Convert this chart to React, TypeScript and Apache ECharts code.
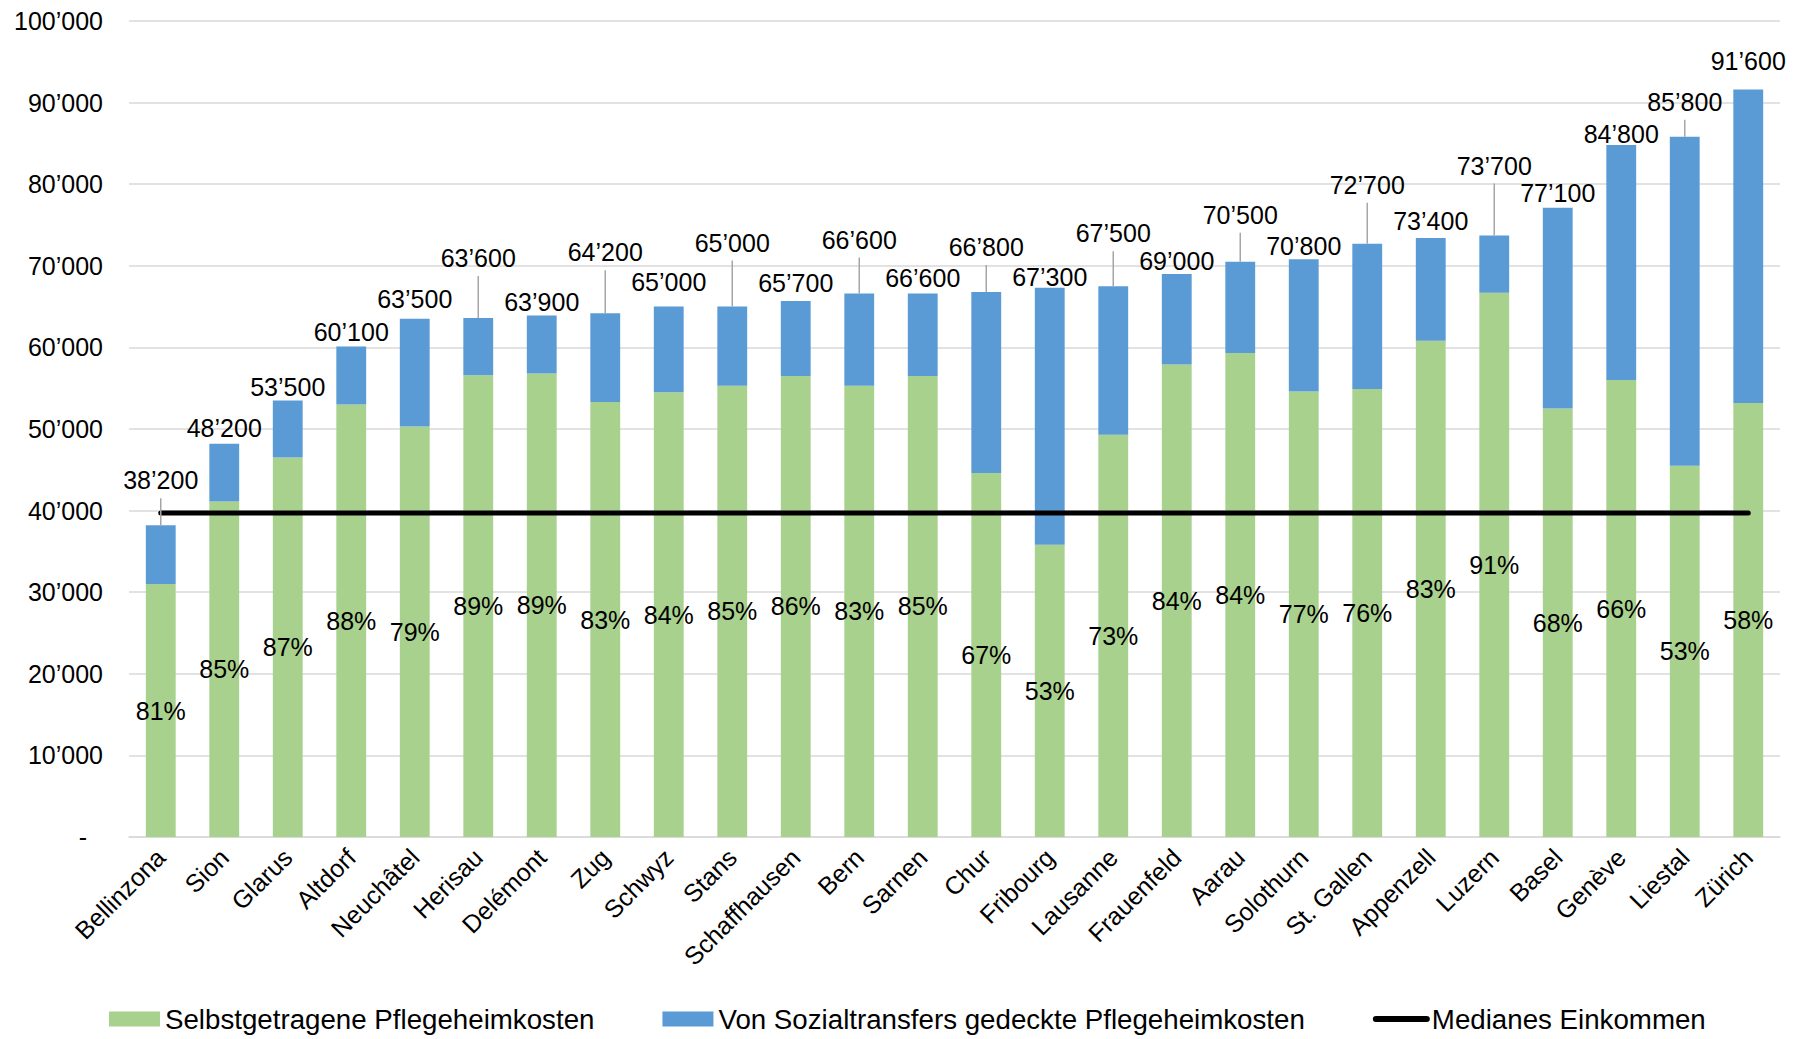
import React, { useEffect, useRef } from 'react';
import * as echarts from 'echarts';

const cities = [
  'Bellinzona', 'Sion', 'Glarus', 'Altdorf', 'Neuchâtel', 'Herisau', 'Delémont', 'Zug', 'Schwyz', 'Stans',
  'Schaffhausen', 'Bern', 'Sarnen', 'Chur', 'Fribourg', 'Lausanne', 'Frauenfeld', 'Aarau', 'Solothurn',
  'St. Gallen', 'Appenzell', 'Luzern', 'Basel', 'Genève', 'Liestal', 'Zürich',
];

const totalCost = [
  38200, 48200, 53500, 60100, 63500, 63600, 63900, 64200, 65000, 65000,
  65700, 66600, 66600, 66800, 67300, 67500, 69000, 70500, 70800,
  72700, 73400, 73700, 77100, 84800, 85800, 91600,
];

const selfPaid = [
  31000, 41100, 46500, 53000, 50300, 56600, 56800, 53300, 54500, 55300,
  56500, 55300, 56500, 44600, 35800, 49300, 57900, 59300, 54600,
  54900, 60800, 66700, 52500, 56000, 45500, 53200,
];

const socialTransfers = [
  7200, 7100, 7000, 7100, 13200, 7000, 7100, 10900, 10500, 9700,
  9200, 11300, 10100, 22200, 31500, 18200, 11100, 11200, 16200,
  17800, 12600, 7000, 24600, 28800, 40300, 38400,
];

const selfPaidShare = [
  81, 85, 87, 88, 79, 89, 89, 83, 84, 85,
  86, 83, 85, 67, 53, 73, 84, 84, 77,
  76, 83, 91, 68, 66, 53, 58,
];

const medianIncome = 39700;

const yMin = 0;
const yMax = 100000;
const yStep = 10000;

// label placement (layout only): lift of total label above bar top, and whether a leader line is drawn
const totalLabelLift = [45, 16, 13, 15, 20, 60, 14, 61, 25, 64, 18, 54, 16, 45, 11, 53, 13, 47, 13, 59, 17, 70, 15, 11, 35, 29];
const hasLeaderLine = [
  true, false, false, false, false, true, false, true, false, true,
  false, true, false, true, false, true, false, true, false,
  true, false, true, false, false, true, false,
];

const SERIES_SELF = 'Selbstgetragene Pflegeheimkosten';
const SERIES_SOCIAL = 'Von Sozialtransfers gedeckte Pflegeheimkosten';
const SERIES_MEDIAN = 'Medianes Einkommen';

const FONT = '"Liberation Sans", Arial, Helvetica, sans-serif';
const GREEN = '#A9D18E';
const BLUE = '#5B9BD5';

function fmt(v: number): string {
  if (v === 0) return '-';
  const th = Math.floor(v / 1000);
  const rest = String(Math.round(v % 1000)).padStart(3, '0');
  return th > 0 ? `${th}\u2019${rest}` : String(v);
}

export default function App() {
  const ref = useRef<HTMLDivElement>(null);

  useEffect(() => {
    if (!ref.current) return;
    const chart = echarts.init(ref.current, undefined, { renderer: 'svg' });

    const option: any = {
      animation: false,
      backgroundColor: '#ffffff',
      textStyle: { fontFamily: FONT },
      grid: { left: 129, right: 15, top: 21, bottom: 202, containLabel: false },
      legend: {
        left: 109,
        top: 1004,
        padding: 0,
        itemGap: 68,
        itemWidth: 51,
        itemHeight: 15,
        textStyle: { fontSize: 27.7, lineHeight: 30, color: '#000', fontFamily: FONT },
        data: [
          { name: SERIES_SELF, icon: 'rect' },
          { name: SERIES_SOCIAL, icon: 'rect' },
          { name: SERIES_MEDIAN, lineStyle: { width: 6, cap: 'round' }, itemStyle: { opacity: 0 } },
        ],
      },
      xAxis: {
        type: 'category',
        data: cities,
        boundaryGap: true,
        axisLine: { show: true, lineStyle: { color: '#D9D9D9', width: 1.5 } },
        axisTick: { show: false },
        axisLabel: {
          interval: 0,
          rotate: 45,
          margin: 16,
          fontSize: 25,
          color: '#000',
          fontFamily: FONT,
        },
      },
      yAxis: {
        type: 'value',
        min: yMin,
        max: yMax,
        interval: yStep,
        axisLine: { show: false },
        axisTick: { show: false },
        splitLine: { lineStyle: { color: '#D9D9D9', width: 1.5 } },
        axisLabel: {
          margin: 26,
          fontSize: 25,
          color: '#000',
          fontFamily: FONT,
          formatter: (v: number) => (v === 0 ? '{d|-}' : fmt(v)),
          rich: { d: { fontSize: 25, color: '#000', padding: [0, 16, 0, 0] } },
        },
      },
      series: [
        {
          name: SERIES_SELF,
          type: 'bar',
          stack: 'cost',
          barWidth: '47%',
          data: selfPaid,
          itemStyle: { color: GREEN },
          label: {
            show: true,
            position: 'inside',
            fontSize: 25,
            color: '#000',
            fontFamily: FONT,
            formatter: (p: any) => `${selfPaidShare[p.dataIndex]}%`,
          },
          z: 2,
        },
        {
          name: SERIES_SOCIAL,
          type: 'bar',
          stack: 'cost',
          barWidth: '47%',
          data: socialTransfers,
          itemStyle: { color: BLUE },
          z: 2,
        },
        {
          name: SERIES_MEDIAN,
          type: 'line',
          data: cities.map(() => medianIncome),
          symbol: 'none',
          showSymbol: false,
          lineStyle: { color: '#000', width: 5, cap: 'round' },
          itemStyle: { color: '#000' },
          z: 4,
        },
        {
          name: 'totals',
          type: 'custom',
          data: totalCost.map((v, i) => [i, v]),
          z: 5,
          silent: true,
          renderItem: (params: any, api: any) => {
            const i = params.dataIndex;
            const top = api.coord([api.value(0), api.value(1)]);
            const ly = top[1] - totalLabelLift[i];
            const children: any[] = [];
            if (hasLeaderLine[i]) {
              children.push({
                type: 'line',
                shape: { x1: top[0], y1: ly + 18, x2: top[0], y2: top[1] },
                style: { stroke: '#A6A6A6', lineWidth: 1.5 },
                z2: 10,
              });
            }
            children.push({
              type: 'text',
              x: top[0],
              y: ly,
              style: {
                text: fmt(totalCost[i]),
                fill: '#000',
                fontSize: 25,
                fontFamily: FONT,
                align: 'center',
                verticalAlign: 'middle',
                textAlign: 'center',
                textVerticalAlign: 'middle',
              },
              z2: 11,
            });
            return { type: 'group', children };
          },
        },
      ],
    };

    chart.setOption(option);
    return () => chart.dispose();
  }, []);

  return (
    <div
      ref={ref}
      style={{ position: 'fixed', left: 0, top: 0, width: 1795, height: 1039, background: '#fff' }}
    />
  );
}
